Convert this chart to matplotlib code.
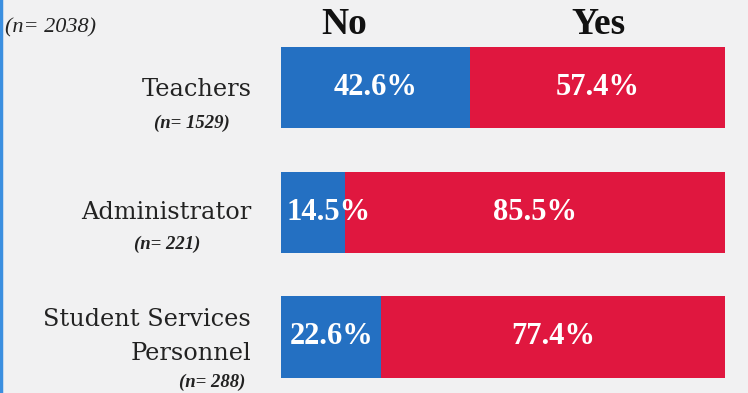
import matplotlib
matplotlib.use("Agg")
import matplotlib.pyplot as plt
from matplotlib.lines import Line2D

# survey shares (%) per staff group
groups = ["Teachers", "Administrator", "Student Services\nPersonnel"]
group_n = ["(n= 1529)", "(n= 221)", "(n= 288)"]
no_pct = [42.6, 14.5, 22.6]
yes_pct = [57.4, 85.5, 77.4]
total_n = "(n= 2038)"

blue = "#2470c2"
red = "#e0173f"
bg = "#f1f1f2"
serif = "Liberation Serif"
label_font = "DejaVu Serif"

W, H = 748, 393
fig = plt.figure(figsize=(W / 100, H / 100), dpi=100, facecolor=bg)

# bars live in an axes spanning x = 281..725 px
ax = fig.add_axes([281 / W, 0, 444 / W, 1])
ax.set_facecolor("none")
ypos = range(len(groups))
ax.barh(ypos, no_pct, height=0.65, color=blue, linewidth=0)
ax.barh(ypos, yes_pct, left=no_pct, height=0.65, color=red, linewidth=0)
ax.set_xlim(0, 100)
ax.set_ylim(2.449, -0.701)
ax.axis("off")

for i, (n, y) in enumerate(zip(no_pct, yes_pct)):
    txt = dict(color="white", fontsize=22, fontweight="bold", family=serif, va="center")
    if n < 20:
        ax.text(1.3, i, f"{n:.1f}%", ha="left", **txt)
    else:
        ax.text(n / 2, i, f"{n:.1f}%", ha="center", **txt)
    ax.text(n + y / 2, i, f"{y:.1f}%", ha="center", **txt)


def px(x, y):
    return x / W, 1 - y / H


# column headers
fig.text(*px(344, 25), "No", ha="center", va="center", fontsize=27,
         fontweight="bold", family=serif, color="#111111")
fig.text(*px(598, 25), "Yes", ha="center", va="center", fontsize=27,
         fontweight="bold", family=serif, color="#111111")
fig.text(*px(5, 28), total_n, ha="left", va="center", fontsize=16,
         style="italic", family=serif, color="#222222")

# group labels on the left, one text per line
label_pos = [(252, 90), (251, 212), (251, 320)]
n_pos = [(230, 123), (200, 244), (245, 382)]
for lab, (lx, ly), nn, (nx, ny) in zip(groups, label_pos, group_n, n_pos):
    for k, line in enumerate(lab.split("\n")):
        fig.text(*px(lx, ly + 34 * k), line, ha="right", va="center", fontsize=17.3,
                 family=label_font, color="#222222")
    fig.text(*px(nx, ny), nn, ha="right", va="center", fontsize=13.5,
             style="italic", fontweight="bold", family=serif, color="#222222")

# thin blue rule down the left edge
fig.add_artist(Line2D([0.002, 0.002], [0, 1], color="#3b8fe0", linewidth=2.5,
                      transform=fig.transFigure))

fig.savefig("out.png", dpi=100, facecolor=bg)
